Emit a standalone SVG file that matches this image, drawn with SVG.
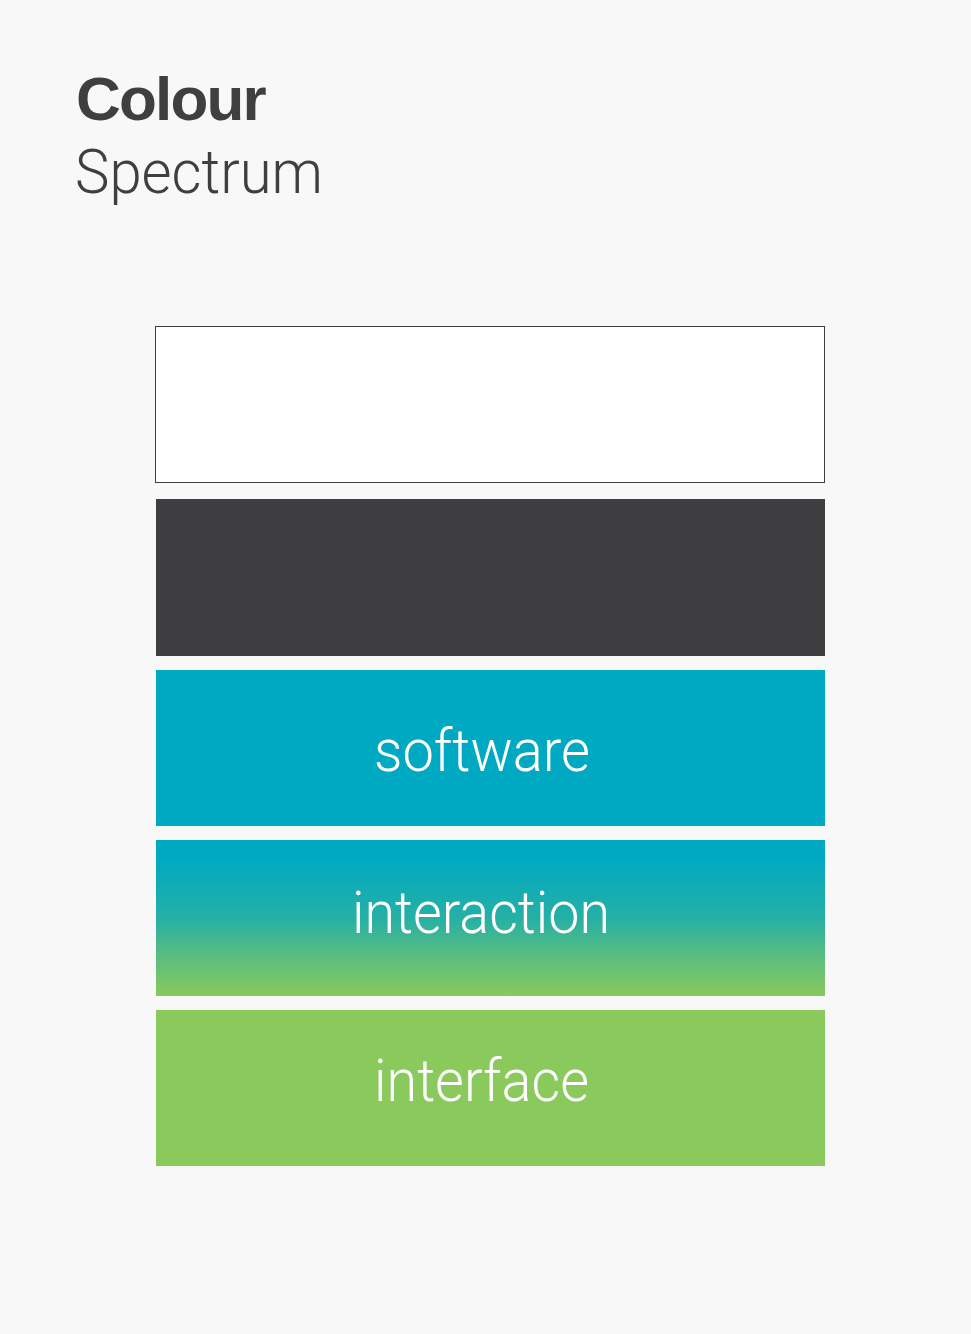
<svg xmlns="http://www.w3.org/2000/svg" width="971" height="1334" viewBox="0 0 971 1334">
<defs>
<linearGradient id="g" x1="0" y1="0" x2="0" y2="1">
<stop offset="0.12" stop-color="#00A9C2"/>
<stop offset="0.5" stop-color="#25B0A5"/>
<stop offset="0.72" stop-color="#55BC84"/>
<stop offset="1" stop-color="#8AC95B"/>
</linearGradient>
<style>
.lbl{font-family:Roboto,"Liberation Sans",Arial,sans-serif;font-weight:300;font-size:60px;fill:#fff;text-anchor:middle}
</style>
</defs>
<rect width="971" height="1334" fill="#F8F8F8"/>
<g id="title">
<text x="76" y="120" font-family="Liberation Sans, Arial, sans-serif" font-weight="bold" font-size="62" letter-spacing="-1.8" fill="#3F3F41">Colour</text>
<text x="75" y="193" font-family="Roboto, Liberation Sans, Arial, sans-serif" font-weight="300" font-size="62" textLength="248" lengthAdjust="spacingAndGlyphs" fill="#3F3F41">Spectrum</text>
</g>
<g id="white"><rect x="155.5" y="326.5" width="669" height="156" fill="#FFFFFF" stroke="#3E3C3F" stroke-width="1"/></g>
<g id="dark"><rect x="156" y="499" width="669" height="157" fill="#3E3E40"/></g>
<g id="software"><rect x="156" y="670" width="669" height="156" fill="#00A9C2"/><text class="lbl" x="482" y="771" textLength="216" lengthAdjust="spacingAndGlyphs">software</text></g>
<g id="interaction"><rect x="156" y="840" width="669" height="156" fill="url(#g)"/><text class="lbl" x="481" y="933" textLength="258" lengthAdjust="spacingAndGlyphs">interaction</text></g>
<g id="interface"><rect x="156" y="1010" width="669" height="156" fill="#8AC95B"/><text class="lbl" x="481.5" y="1101" textLength="215" lengthAdjust="spacingAndGlyphs">interface</text></g>
<g id="connectors"/>
</svg>
